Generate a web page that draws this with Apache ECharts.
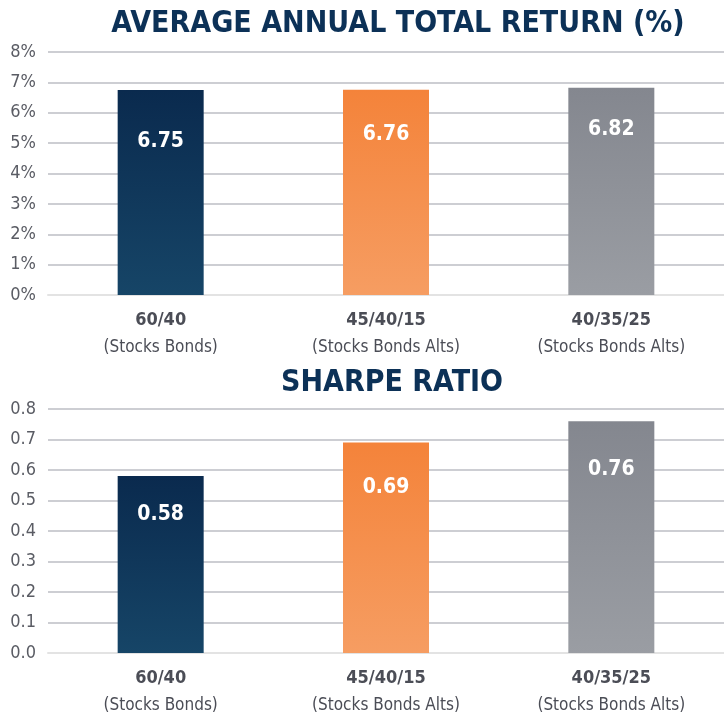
<!DOCTYPE html>
<html>
<head>
<meta charset="utf-8">
<script src="https://cdn.jsdelivr.net/npm/echarts@6/dist/echarts.min.js"></script>
<style>
  html, body { margin: 0; padding: 0; background: #fff; }
  #main { width: 724px; height: 716px; }
</style>
</head>
<body>
<div id="main"></div>
<script>
  // data
  var portfolios = ['60/40', '45/40/15', '40/35/25'];
  var mixes = ['(Stocks Bonds)', '(Stocks Bonds Alts)', '(Stocks Bonds Alts)'];
  var returnVals = [6.75, 6.76, 6.82];
  var sharpeVals = [0.58, 0.69, 0.76];
  var returnTicks = [0, 8, 1];   // min, max, step
  var sharpeTicks = [0, 0.8, 0.1];

  var FONT = "'Liberation Sans Narrow', 'DejaVu Sans Condensed', 'Roboto', sans-serif";

  function grad(top, bottom) {
    return new echarts.graphic.LinearGradient(0, 0, 0, 1, [
      { offset: 0, color: top }, { offset: 1, color: bottom }
    ]);
  }
  var barColors = [
    grad('#0a2a4e', '#164567'),
    grad('#f4833a', '#f69d62'),
    grad('#84878f', '#9a9da3')
  ];

  // how far the value label sits below the bar top
  var topDist = [41, 34, 31];
  var botDist = [28, 34, 38];

  function barData(vals, dists) {
    return vals.map(function (v, i) {
      return {
        value: v,
        itemStyle: { color: barColors[i] },
        label: { distance: dists[i] }
      };
    });
  }

  function catAxis(idx) {
    return {
      type: 'category', gridIndex: idx, data: portfolios,
      axisTick: { show: false },
      axisLine: { lineStyle: { color: '#e3e3e3', width: 2 } },
      axisLabel: {
        margin: 11,
        formatter: function (v, i) { return '{b|' + v + '}\n{n|' + mixes[i] + '}'; },
        rich: {
          b: { fontFamily: FONT, fontWeight: 'bold', fontSize: 18, color: '#4b4d56', lineHeight: 28 },
          n: { fontFamily: FONT, fontSize: 17, color: '#4b4d56', lineHeight: 28 }
        }
      }
    };
  }

  function valAxis(idx, t, fmt) {
    return {
      type: 'value', gridIndex: idx, min: t[0], max: t[1], interval: t[2],
      axisLine: { show: false }, axisTick: { show: false },
      splitLine: { lineStyle: { color: '#bdbec4', width: 1.5 } },
      axisLabel: { margin: 12, fontFamily: FONT, fontSize: 18, color: '#5a5c64', formatter: fmt }
    };
  }

  var valLabel = {
    show: true, position: 'insideTop', color: '#fff',
    fontFamily: FONT, fontWeight: 'bold', fontSize: 21
  };

  var chart = echarts.init(document.getElementById('main'));
  chart.setOption({
    animation: false,
    title: [
      { text: 'AVERAGE ANNUAL TOTAL RETURN (%)', left: 393, top: 4, textAlign: 'center',
        textStyle: { fontFamily: FONT, fontWeight: 'bold', fontSize: 30, color: '#0c3157' } },
      { text: 'SHARPE RATIO', left: 387, top: 363, textAlign: 'center',
        textStyle: { fontFamily: FONT, fontWeight: 'bold', fontSize: 30, color: '#0c3157' } }
    ],
    grid: [
      { left: 48, right: -10, top: 52, height: 243 },
      { left: 48, right: -10, top: 409, height: 244 }
    ],
    xAxis: [catAxis(0), catAxis(1)],
    yAxis: [
      valAxis(0, returnTicks, '{value}%'),
      valAxis(1, sharpeTicks, function (v) { return v.toFixed(1); })
    ],
    series: [
      { type: 'bar', xAxisIndex: 0, yAxisIndex: 0, barWidth: 86,
        data: barData(returnVals, topDist), label: valLabel },
      { type: 'bar', xAxisIndex: 1, yAxisIndex: 1, barWidth: 86,
        data: barData(sharpeVals, botDist), label: valLabel }
    ]
  });
</script>
</body>
</html>
